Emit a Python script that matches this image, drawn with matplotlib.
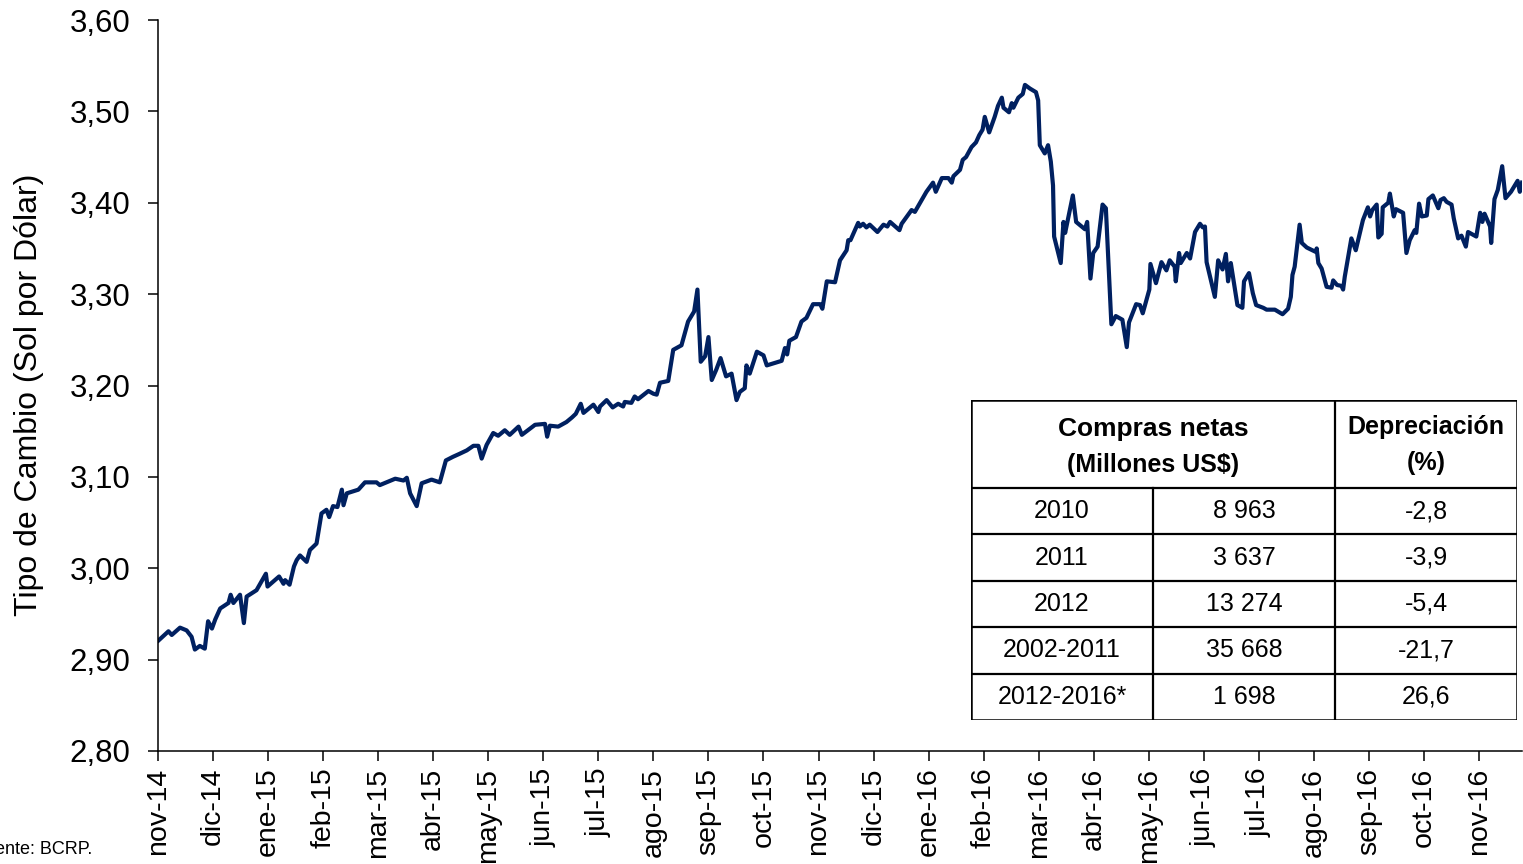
import matplotlib
matplotlib.use("Agg")
import matplotlib.pyplot as plt

# tiempo en meses transcurridos desde el 1-nov-2014
t_mes = [
    0.01, 0.19, 0.25, 0.40, 0.52, 0.61, 0.67, 0.76, 0.85, 0.91, 0.98, 1.04, 1.13, 1.28, 1.32, 1.37,
    1.49, 1.56, 1.61, 1.79, 1.96, 1.99, 2.20, 2.28, 2.31, 2.39, 2.47, 2.52, 2.58, 2.70, 2.76, 2.88,
    2.97, 3.06, 3.11, 3.18, 3.26, 3.34, 3.37, 3.43, 3.64, 3.76, 3.97, 4.03, 4.31, 4.46, 4.52, 4.58,
    4.70, 4.79, 4.97, 5.12, 5.23, 5.36, 5.47, 5.61, 5.73, 5.82, 5.88, 5.97, 6.09, 6.18, 6.30, 6.39,
    6.55, 6.61, 6.85, 7.03, 7.07, 7.12, 7.27, 7.42, 7.52, 7.59, 7.68, 7.73, 7.91, 8.00, 8.03, 8.15,
    8.26, 8.36, 8.45, 8.48, 8.60, 8.66, 8.72, 8.91, 9.00, 9.06, 9.12, 9.27, 9.36, 9.51, 9.57, 9.63,
    9.74, 9.80, 9.86, 9.94, 10.00, 10.06, 10.14, 10.22, 10.32, 10.42, 10.51, 10.57, 10.66, 10.69,
    10.75, 10.88, 11.00, 11.06, 11.33, 11.39, 11.43, 11.47, 11.59, 11.69, 11.78, 11.90, 12.03, 12.07,
    12.15, 12.30, 12.39, 12.51, 12.54, 12.58, 12.72, 12.75, 12.81, 12.87, 12.93, 13.07, 13.18, 13.25,
    13.30, 13.47, 13.51, 13.69, 13.75, 13.96, 14.08, 14.13, 14.24, 14.36, 14.42, 14.45, 14.57, 14.62,
    14.68, 14.78, 14.86, 14.92, 14.98, 15.02, 15.10, 15.20, 15.26, 15.33, 15.36, 15.46, 15.51, 15.54,
    15.63, 15.71, 15.75, 15.84, 15.95, 15.99, 16.02, 16.11, 16.17, 16.22, 16.26, 16.28, 16.40, 16.45,
    16.48, 16.62, 16.68, 16.84, 16.88, 16.94, 16.99, 17.07, 17.16, 17.22, 17.32, 17.40, 17.52, 17.60,
    17.64, 17.77, 17.84, 17.89, 18.01, 18.03, 18.13, 18.23, 18.32, 18.38, 18.47, 18.49, 18.55, 18.58,
    18.69, 18.75, 18.84, 18.93, 18.98, 19.02, 19.05, 19.20, 19.26, 19.34, 19.40, 19.44, 19.49, 19.61,
    19.70, 19.73, 19.82, 19.89, 19.95, 20.08, 20.14, 20.29, 20.43, 20.53, 20.58, 20.61, 20.65, 20.74,
    20.78, 20.87, 21.04, 21.05, 21.08, 21.14, 21.23, 21.32, 21.35, 21.42, 21.50, 21.53, 21.56, 21.68,
    21.76, 21.89, 21.98, 22.02, 22.06, 22.14, 22.17, 22.23, 22.25, 22.35, 22.38, 22.45, 22.49, 22.62,
    22.68, 22.74, 22.83, 22.86, 22.91, 22.96, 23.05, 23.08, 23.16, 23.26, 23.30, 23.36, 23.41, 23.50,
    23.54, 23.62, 23.68, 23.76, 23.80, 23.95, 24.02, 24.06, 24.10, 24.20, 24.22, 24.28, 24.34, 24.42,
    24.48, 24.58, 24.70, 24.74, 24.78,
]

tipo_cambio = [
    2.921, 2.931, 2.927, 2.935, 2.932, 2.925, 2.911, 2.915, 2.912, 2.942, 2.934, 2.944, 2.956, 2.962, 2.971, 2.962,
    2.971, 2.940, 2.969, 2.976, 2.994, 2.980, 2.991, 2.983, 2.987, 2.982, 3.002, 3.009, 3.014, 3.007, 3.020, 3.027,
    3.060, 3.064, 3.056, 3.068, 3.067, 3.086, 3.069, 3.082, 3.086, 3.094, 3.094, 3.091, 3.098, 3.096, 3.099, 3.082,
    3.068, 3.093, 3.097, 3.094, 3.118, 3.122, 3.125, 3.129, 3.134, 3.134, 3.120, 3.135, 3.148, 3.145, 3.151, 3.146,
    3.155, 3.146, 3.157, 3.158, 3.144, 3.156, 3.155, 3.160, 3.165, 3.169, 3.180, 3.170, 3.179, 3.171, 3.177, 3.184,
    3.176, 3.180, 3.177, 3.182, 3.181, 3.188, 3.185, 3.194, 3.191, 3.190, 3.203, 3.205, 3.239, 3.244, 3.257, 3.270,
    3.281, 3.305, 3.226, 3.232, 3.253, 3.206, 3.217, 3.230, 3.210, 3.213, 3.184, 3.193, 3.197, 3.222,
    3.213, 3.237, 3.233, 3.222, 3.227, 3.241, 3.234, 3.249, 3.253, 3.270, 3.274, 3.289, 3.289, 3.284,
    3.314, 3.313, 3.337, 3.348, 3.359, 3.359, 3.378, 3.374, 3.377, 3.373, 3.376, 3.368, 3.376, 3.374,
    3.379, 3.370, 3.377, 3.392, 3.390, 3.412, 3.422, 3.412, 3.427, 3.427, 3.422, 3.429, 3.436, 3.447,
    3.450, 3.461, 3.466, 3.474, 3.480, 3.494, 3.477, 3.494, 3.506, 3.515, 3.504, 3.499, 3.509, 3.504,
    3.515, 3.519, 3.529, 3.525, 3.521, 3.512, 3.463, 3.454, 3.463, 3.445, 3.419, 3.363, 3.334, 3.379,
    3.367, 3.408, 3.379, 3.371, 3.379, 3.317, 3.345, 3.352, 3.398, 3.394, 3.267, 3.276, 3.272, 3.242,
    3.269, 3.289, 3.288, 3.279, 3.305, 3.333, 3.312, 3.335, 3.326, 3.337, 3.330, 3.314, 3.345, 3.334,
    3.345, 3.339, 3.368, 3.377, 3.373, 3.374, 3.335, 3.297, 3.337, 3.327, 3.344, 3.314, 3.334, 3.288,
    3.285, 3.314, 3.323, 3.301, 3.288, 3.285, 3.283, 3.283, 3.278, 3.284, 3.297, 3.321, 3.330, 3.376,
    3.356, 3.351, 3.346, 3.350, 3.334, 3.328, 3.308, 3.307, 3.315, 3.310, 3.309, 3.305, 3.319, 3.361,
    3.348, 3.381, 3.395, 3.385, 3.392, 3.398, 3.362, 3.366, 3.395, 3.400, 3.410, 3.385, 3.393, 3.389,
    3.345, 3.359, 3.370, 3.367, 3.399, 3.385, 3.386, 3.404, 3.408, 3.394, 3.403, 3.405, 3.401, 3.398,
    3.383, 3.361, 3.364, 3.352, 3.368, 3.363, 3.389, 3.379, 3.388, 3.374, 3.356, 3.404, 3.414, 3.440,
    3.405, 3.412, 3.424, 3.412, 3.422,
]

meses = ["nov-14", "dic-14", "ene-15", "feb-15", "mar-15", "abr-15", "may-15", "jun-15",
         "jul-15", "ago-15", "sep-15", "oct-15", "nov-15", "dic-15", "ene-16", "feb-16",
         "mar-16", "abr-16", "may-16", "jun-16", "jul-16", "ago-16", "sep-16", "oct-16", "nov-16"]

y_ticks = [2.80, 2.90, 3.00, 3.10, 3.20, 3.30, 3.40, 3.50, 3.60]

# tabla
periodos = ["2010", "2011", "2012", "2002-2011", "2012-2016*"]
compras = ["8 963", "3 637", "13 274", "35 668", "1 698"]
depreciacion = ["-2,8", "-3,9", "-5,4", "-21,7", "26,6"]

plt.rcParams["font.family"] = ["Liberation Sans", "DejaVu Sans"]

W, H = 1523, 864
fig = plt.figure(figsize=(W / 100, H / 100), dpi=100)
ax = fig.add_axes([158 / W, 1 - 751 / H, (1522 - 158) / W, (751 - 20) / H])

ax.plot(t_mes, tipo_cambio, color="#002060", lw=3.0, solid_joinstyle="round")

ax.set_xlim(0, 24.78)
ax.set_ylim(2.80, 3.60)
ax.set_yticks(y_ticks)
ax.set_yticklabels([f"{v:.2f}".replace(".", ",") for v in y_ticks], fontsize=22.5)
ax.set_xticks(range(len(meses)))
ax.set_xticklabels(meses, rotation=90, fontsize=20.5, va="top", ha="center")

for s in ["top", "right"]:
    ax.spines[s].set_visible(False)
for s in ["left", "bottom"]:
    ax.spines[s].set_linewidth(1.1)
ax.tick_params(axis="y", length=7, width=1.1, pad=13)
ax.tick_params(axis="x", length=7, width=1.1, pad=5)

fig.text(29 / W, 1 - 395 / H, "Tipo de Cambio (Sol por Dólar)", rotation=90,
         ha="center", va="center", fontsize=23)
fig.text(92 / W, 1 - 850 / H, "Fuente: BCRP.", ha="right", va="center", fontsize=13)

# tabla insertada
tx0, tx1, ty0, ty1 = 971, 1517, 400, 720
tab = fig.add_axes([tx0 / W, 1 - ty1 / H, (tx1 - tx0) / W, (ty1 - ty0) / H])
tab.set_xlim(tx0, tx1)
tab.set_ylim(ty1, ty0)
tab.axis("off")
tab.add_patch(plt.Rectangle((tx0, ty0), tx1 - tx0, ty1 - ty0, fill=True,
                            facecolor="white", edgecolor="black", lw=1.8))
col_x = [971, 1153, 1335, 1517]
head_y = 488
row_h = (ty1 - head_y) / len(periodos)
tab.plot([tx0, tx1], [head_y, head_y], color="black", lw=1.6)
for i in range(1, len(periodos)):
    yy = head_y + i * row_h
    tab.plot([tx0, tx1], [yy, yy], color="black", lw=1.6)
tab.plot([col_x[1], col_x[1]], [head_y, ty1], color="black", lw=1.6)
tab.plot([col_x[2], col_x[2]], [ty0, ty1], color="black", lw=1.6)

tab.text((col_x[0] + col_x[2]) / 2, 429, "Compras netas", ha="center", va="center",
         fontsize=19, fontweight="bold")
tab.text((col_x[0] + col_x[2]) / 2, 465, "(Millones US$)", ha="center", va="center",
         fontsize=18, fontweight="bold")
tab.text((col_x[2] + col_x[3]) / 2, 427, "Depreciación", ha="center", va="center",
         fontsize=18, fontweight="bold")
tab.text((col_x[2] + col_x[3]) / 2, 463, "(%)", ha="center", va="center",
         fontsize=18, fontweight="bold")
for i, (p, c, d) in enumerate(zip(periodos, compras, depreciacion)):
    yc = head_y + (i + 0.5) * row_h
    for j, txt in enumerate([p, c, d]):
        tab.text((col_x[j] + col_x[j + 1]) / 2, yc, txt, ha="center", va="center",
                 fontsize=18)

fig.savefig("out.png", dpi=100)
